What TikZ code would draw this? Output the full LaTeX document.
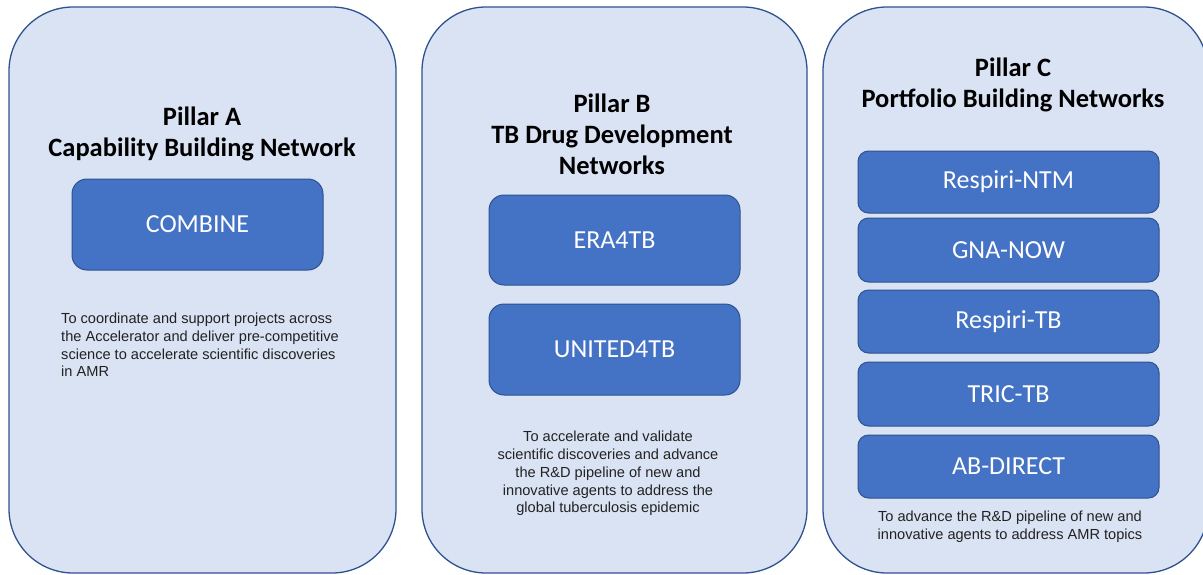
\documentclass[tikz,border=0pt]{standalone}
\usepackage{fontspec}
\setmainfont{Carlito}
\newfontfamily\descfont{Liberation Sans}
\definecolor{panelfill}{HTML}{DAE3F3}
\definecolor{panelline}{HTML}{2F528F}
\definecolor{boxfill}{HTML}{4472C4}
\definecolor{desctext}{HTML}{222222}
\tikzset{
  panel/.style={draw=panelline, fill=panelfill, line width=1.3pt, rounded corners=64pt, inner sep=0pt},
  netbox/.style={draw=panelline, fill=boxfill, line width=1pt, text=white, inner sep=0pt,
    font=\fontsize{26}{30}\selectfont},
  title/.style={align=center, font=\fontsize{26.5}{31}\selectfont\bfseries, text=black, inner sep=0pt},
  desc/.style={font=\descfont\fontsize{14.6}{17.8}\selectfont, text=desctext, inner sep=0pt}
}
\begin{document}
\begin{tikzpicture}[x=1pt,y=-1pt]
\useasboundingbox (0,0) rectangle (1203,574);
\clip (0,0) rectangle (1203,574);
% panels
\node[panel, minimum width=387pt, minimum height=566pt] (pA) at (202.5,290) {};
\node[panel, minimum width=385pt, minimum height=566pt] (pB) at (614.5,290) {};
\node[panel, minimum width=385pt, minimum height=566pt] (pC) at (1015.5,290) {};
% titles
\node[title] (tA) at (202,134) {Pillar A\\Capability Building Network};
\node[title] (tB) at (612,134) {Pillar B\\TB Drug Development\\Networks};
\node[title] (tC) at (1013,85) {Pillar C\\Portfolio Building Networks};
% boxes
\node[netbox, rounded corners=15pt, minimum width=251pt, minimum height=91pt] (combine) at (197.5,224.5) {COMBINE};
\node[netbox, rounded corners=15pt, minimum width=251pt, minimum height=90pt] (era) at (614.5,240) {ERA4TB};
\node[netbox, rounded corners=15pt, minimum width=251pt, minimum height=91pt] (united) at (614.5,349.5) {UNITED4TB};
\node[netbox, rounded corners=10.5pt, minimum width=301pt, minimum height=62pt] (ntm) at (1008.5,182) {Respiri-NTM};
\node[netbox, rounded corners=10.5pt, minimum width=301pt, minimum height=64pt] (gna) at (1008.5,250) {GNA-NOW};
\node[netbox, rounded corners=10.5pt, minimum width=301pt, minimum height=63pt] (rtb) at (1008.5,321.5) {Respiri-TB};
\node[netbox, rounded corners=10.5pt, minimum width=301pt, minimum height=64pt] (tric) at (1008.5,394) {TRIC-TB};
\node[netbox, rounded corners=10.5pt, minimum width=301pt, minimum height=63pt] (abd) at (1008.5,466.5) {AB-DIRECT};
% descriptions
\node[desc, align=left, anchor=west] (dA) at (61,345) {To coordinate and support projects across\\the Accelerator and deliver pre-competitive\\science to accelerate scientific discoveries\\in AMR};
\node[desc, align=center] (dB) at (608,473.5) {To accelerate and validate\\scientific discoveries and advance\\the R\&D pipeline of new and\\innovative agents to address the\\global tuberculosis epidemic};
\node[desc, align=center] (dC) at (1010,527) {To advance the R\&D pipeline of new and\\innovative agents to address AMR topics};
\end{tikzpicture}
\end{document}
